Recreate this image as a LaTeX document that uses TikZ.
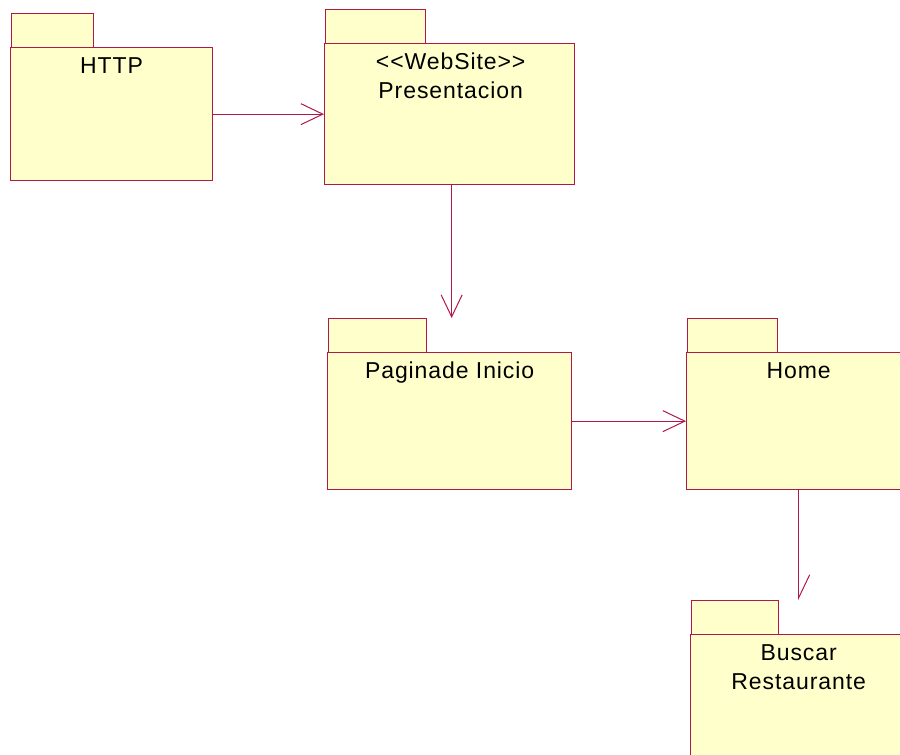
\documentclass[tikz,border=0pt]{standalone}
\usepackage{fontspec}
\setmainfont[LetterSpace=4]{Liberation Sans}
\usetikzlibrary{arrows.meta}
\definecolor{pkgline}{RGB}{176,24,72}
\definecolor{pkgfill}{RGB}{255,255,204}
\tikzset{
  pkgbox/.style={draw=pkgline, fill=pkgfill, line width=1.3pt, rectangle, inner sep=0pt, anchor=north west},
  pkgtext/.style={font=\fontsize{23}{29}\selectfont, align=center, anchor=north, inner sep=0pt},
  dep/.style={draw=pkgline, line width=1pt, -{Straight Barb[length=22pt,width=21pt]}},
  halfdep/.style={draw=pkgline, line width=1pt, -{Straight Barb[length=23pt,width=22pt,harpoon]}},
}
\begin{document}
\begin{tikzpicture}[x=1pt,y=-1pt]
\useasboundingbox (0,0) rectangle (900,755);
\clip (0,0) rectangle (900,755);
% HTTP
\node[pkgbox, minimum width=82pt, minimum height=34pt] (httptab) at (11,13) {};
\node[pkgbox, minimum width=202pt, minimum height=133pt] (http) at (10,47) {};
\node[pkgtext] (httpt) at ([yshift=-10pt]http.north) {HTTP};
% Presentacion
\node[pkgbox, minimum width=100pt, minimum height=34pt] (prestab) at (325,9) {};
\node[pkgbox, minimum width=250pt, minimum height=141pt] (pres) at (324,43) {};
\node[pkgtext] (prest) at ([xshift=1pt,yshift=-10pt]pres.north) {<{}<WebSite>{}>\\Presentacion};
% Pagina de Inicio
\node[pkgbox, minimum width=98pt, minimum height=34pt] (pagtab) at (328,318) {};
\node[pkgbox, minimum width=244pt, minimum height=137pt] (pag) at (327,352) {};
\node[pkgtext] (pagt) at ([yshift=-10pt]pag.north) {Paginade Inicio};
% Home
\node[pkgbox, minimum width=90pt, minimum height=34pt] (hometab) at (687,318) {};
\node[pkgbox, minimum width=224pt, minimum height=137pt] (home) at (686,352) {};
\node[pkgtext] (homet) at ([yshift=-10pt]home.north) {Home};
% Buscar Restaurante
\node[pkgbox, minimum width=87pt, minimum height=34pt] (bustab) at (691,600) {};
\node[pkgbox, minimum width=216pt, minimum height=160pt] (bus) at (690,634) {};
\node[pkgtext] (bust) at ([yshift=-10pt]bus.north) {Buscar\\Restaurante};
% dependencies
\draw[dep] (http.east) -- (pres.west);
\draw[dep] ([xshift=2pt]pres.south) -- ([xshift=2pt]pres.south |- pagtab.north);
\draw[dep] (pag.east) -- (home.west);
\draw[halfdep] (home.south) -- (home.south |- bustab.north);
\end{tikzpicture}
\end{document}
